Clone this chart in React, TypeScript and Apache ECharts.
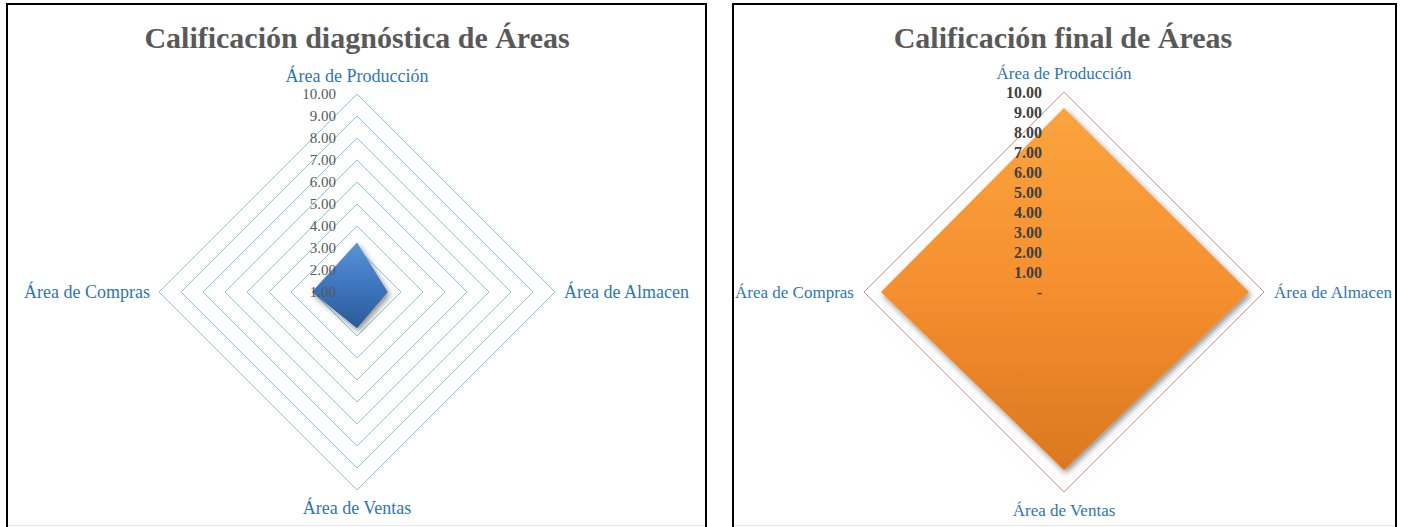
import React, { useEffect, useRef } from 'react';
import * as echarts from 'echarts';

// Categories in ECharts' radar order (counter-clockwise from the top): top, left, bottom, right
const categories = ['Área de Producción', 'Área de Compras', 'Área de Ventas', 'Área de Almacen'];
const diagnosticValues = [3.25, 3.05, 2.65, 2.4];
const finalValues = [9.2, 9.15, 8.9, 9.25];
const diagnosticMin = 1;
const diagnosticMax = 10;
const finalMin = 0;
const finalMax = 10;
const titles = ['Calificación diagnóstica de Áreas', 'Calificación final de Áreas'];

const FONT = '"Liberation Serif", "Times New Roman", serif';
const NAME_BLUE = '#2E75B6';

const fmt = (v: number) => (v === 0 ? '-' : v.toFixed(2));

export default function App() {
  const ref = useRef<HTMLDivElement>(null);
  useEffect(() => {
    if (!ref.current) return;
    const chart = echarts.init(ref.current, undefined, { renderer: 'svg' });

    const leftC = [357, 292];
    const leftR = 198;
    const rightC = [1064, 292];
    const rightR = 200;

    const indicators = (min: number, max: number, labelFirst: boolean) =>
      categories.map((name, i) => ({
        name,
        min,
        max,
        axisLabel: { show: labelFirst && i === 0 },
      }));

    const finalRingColors = Array.from({ length: 11 }, (_, i) => (i === 10 ? '#D98B84' : 'rgba(0,0,0,0)'));

    const option: any = {
      animation: false,
      backgroundColor: '#ffffff',
      graphic: [
        { type: 'rect', shape: { x: 7, y: 4, width: 699, height: 540 }, style: { fill: 'none', stroke: '#000', lineWidth: 2 }, z: 0 },
        { type: 'rect', shape: { x: 733, y: 4, width: 663, height: 540 }, style: { fill: 'none', stroke: '#000', lineWidth: 2 }, z: 0 },
        { type: 'line', shape: { x1: 8, y1: 525.5, x2: 705, y2: 525.5 }, style: { stroke: '#E4E4E4', lineWidth: 1 } },
        { type: 'line', shape: { x1: 734, y1: 525.5, x2: 1395, y2: 525.5 }, style: { stroke: '#E4E4E4', lineWidth: 1 } },
        {
          type: 'text', x: 357, y: 37,
          style: { text: titles[0], fontSize: 30, fontWeight: 'bold', fontFamily: FONT, fill: '#595959', align: 'center', verticalAlign: 'middle' },
        },
        {
          type: 'text', x: 1063, y: 37,
          style: { text: titles[1], fontSize: 30, fontWeight: 'bold', fontFamily: FONT, fill: '#595959', align: 'center', verticalAlign: 'middle' },
        },
      ],
      radar: [
        {
          center: leftC, radius: leftR, startAngle: 90, shape: 'polygon', splitNumber: 9,
          indicator: indicators(diagnosticMin, diagnosticMax, false),
          axisName: { color: NAME_BLUE, fontSize: 18, fontFamily: FONT },
          nameGap: 9,
          splitLine: { lineStyle: { color: '#86C8DA', width: 1 } },
          splitArea: { show: false },
          axisLine: { show: false },
          axisTick: { show: false },
          axisLabel: { show: false },
          z: 0,
        },
        {
          center: leftC, radius: leftR, startAngle: 90, shape: 'polygon', splitNumber: 9,
          indicator: indicators(diagnosticMin, diagnosticMax, true),
          axisName: { show: false },
          splitLine: { show: false },
          splitArea: { show: false },
          axisLine: { show: false },
          axisTick: { show: false },
          axisLabel: { show: true, color: '#595959', fontSize: 15, fontFamily: FONT, formatter: fmt, margin: 21 },
          z: 5,
        },
        {
          center: rightC, radius: rightR, startAngle: 90, shape: 'polygon', splitNumber: 10,
          indicator: indicators(finalMin, finalMax, false),
          axisName: { color: NAME_BLUE, fontSize: 17, fontFamily: FONT },
          nameGap: 10,
          splitLine: { lineStyle: { color: finalRingColors, width: 1 } },
          splitArea: { show: false },
          axisLine: { show: false },
          axisTick: { show: false },
          axisLabel: { show: false },
          z: 0,
        },
        {
          center: rightC, radius: rightR, startAngle: 90, shape: 'polygon', splitNumber: 10,
          indicator: indicators(finalMin, finalMax, true),
          axisName: { show: false },
          splitLine: { show: false },
          splitArea: { show: false },
          axisLine: { show: false },
          axisTick: { show: false },
          axisLabel: { show: true, color: '#404040', fontSize: 16, fontWeight: 'bold', fontFamily: FONT, formatter: fmt, margin: 22 },
          z: 5,
        },
      ],
      series: [
        {
          type: 'radar', radarIndex: 0, z: 2, symbol: 'none',
          data: [{
            value: diagnosticValues,
            lineStyle: { width: 0, color: '#3A72B8' },
            areaStyle: {
              opacity: 1,
              color: {
                type: 'linear', x: 0, y: 0, x2: 0, y2: 1,
                colorStops: [
                  { offset: 0, color: '#5A93D6' },
                  { offset: 0.5, color: '#3D76BE' },
                  { offset: 1, color: '#2B5A98' },
                ],
              },
              shadowBlur: 6, shadowColor: 'rgba(0,0,0,0.45)', shadowOffsetX: 2, shadowOffsetY: 3,
            },
          }],
        },
        {
          type: 'radar', radarIndex: 2, z: 2, symbol: 'none',
          data: [{
            value: finalValues,
            lineStyle: { width: 0, color: '#F0902F' },
            areaStyle: {
              opacity: 1,
              color: {
                type: 'linear', x: 0, y: 0, x2: 0, y2: 1,
                colorStops: [
                  { offset: 0, color: '#FBA43E' },
                  { offset: 0.5, color: '#F58F2F' },
                  { offset: 1, color: '#DB781F' },
                ],
              },
              shadowBlur: 6, shadowColor: 'rgba(0,0,0,0.45)', shadowOffsetX: 2, shadowOffsetY: 3,
            },
          }],
        },
      ],
    };
    chart.setOption(option);
    return () => chart.dispose();
  }, []);
  return <div ref={ref} style={{ position: 'absolute', left: 0, top: 0, width: 1402, height: 527 }} />;
}
